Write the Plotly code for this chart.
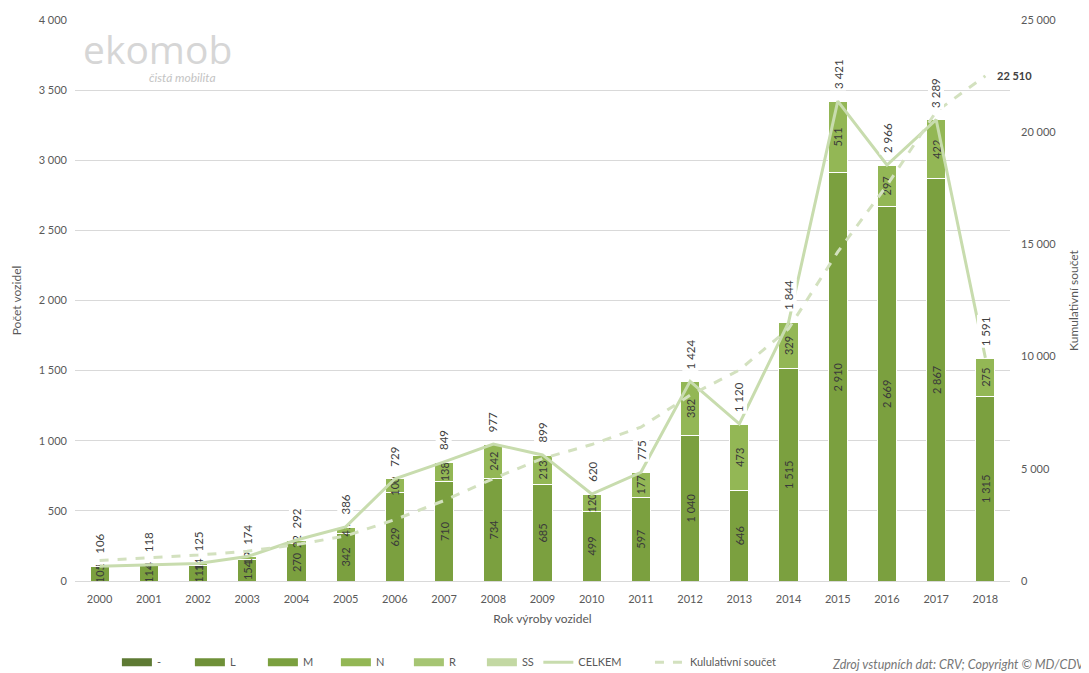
import plotly.graph_objects as go

years = [str(y) for y in range(2000, 2019)]
dash_cat = [0] * 19
cat_L = [0] * 19
cat_M = [105, 114, 111, 154, 270, 342, 629, 710, 734, 685, 499, 597, 1040, 646, 1515, 2910, 2669, 2867, 1315]
cat_N = [1, 4, 14, 19, 22, 41, 100, 138, 242, 213, 120, 177, 382, 473, 329, 511, 297, 422, 275]
cat_R = [0, 0, 0, 1, 0, 3, 0, 1, 1, 1, 1, 1, 2, 1, 0, 0, 0, 0, 1]
cat_SS = [0] * 19
celkem = [106, 118, 125, 174, 292, 386, 729, 849, 977, 899, 620, 775, 1424, 1120, 1844, 3421, 2966, 3289, 1591]
kumul = [911, 1029, 1154, 1328, 1620, 2006, 2735, 3584, 4561, 5460, 6080, 6855, 8279, 9399, 11243, 14664, 17630, 20919, 22510]

FONT = "Lato"
TXT = "#595959"

series = [("-", dash_cat, "#5e7a34", False), ("L", cat_L, "#6f9038", False),
          ("M", cat_M, "#7ba03f", True), ("N", cat_N, "#93b755", True),
          ("R", cat_R, "#a6c573", False), ("SS", cat_SS, "#c3d8a3", False)]

fig = go.Figure()

for name, vals, color, text in series:
    kw = {}
    if text:
        kw = dict(texttemplate="%{y:,d}", textposition="inside", textangle=-90,
                  insidetextanchor="middle", constraintext="none",
                  textfont=dict(family=FONT, size=11, color="#3a3a3a"))
    fig.add_trace(go.Bar(name=name, x=years, y=vals, showlegend=False,
                         marker=dict(color=color, line=dict(color="white", width=1)),
                         hoverinfo="y", **kw))

# legend swatches for bar series (wide rectangles like the reference)
for name, vals, color, text in series:
    fig.add_trace(go.Scatter(name=name, x=[None], y=[None], mode="lines",
                             line=dict(color=color, width=8), legend="legend"))

fig.add_trace(go.Scatter(name="CELKEM", x=years, y=celkem, mode="lines", legend="legend2",
                         line=dict(color="#c8dcae", width=3)))
fig.add_trace(go.Scatter(name="Kululativní součet", x=years, y=kumul, mode="lines", yaxis="y2",
                         legend="legend3", line=dict(color="#d3e1bf", width=3, dash="dash")))

for i, v in enumerate(celkem):
    fig.add_annotation(x=i, y=v, xref="x", yref="y", text=f"{v:,}".replace(",", " "),
                       textangle=-90, yanchor="bottom", yshift=10, showarrow=False,
                       bgcolor="white", font=dict(family=FONT, size=11.5, color="#404040"))

fig.add_annotation(x=len(years) - 1, y=kumul[-1], xref="x", yref="y2",
                   text=f"<b>{kumul[-1]:,}</b>".replace(",", " "), xanchor="left", xshift=10,
                   showarrow=False, font=dict(family=FONT, size=11, color="#404040"))

# logo
fig.add_annotation(xref="paper", yref="paper", x=0.006, y=1.0, xanchor="left", yanchor="top",
                   text="ekomob", showarrow=False, font=dict(family="Open Sans", size=39, color="#d6d6d6"))
fig.add_annotation(xref="paper", yref="paper", x=0.077, y=0.897, xanchor="left", yanchor="middle",
                   text="<i>čistá mobilita</i>", showarrow=False, font=dict(family=FONT, size=12, color="#c4c4c4"))

# source
fig.add_annotation(xref="paper", yref="paper", x=1.082, y=-0.1497, xanchor="right", yanchor="middle",
                   text="<i>Zdroj vstupních dat: CRV; Copyright © MD/CDV</i>", showarrow=False,
                   font=dict(family=FONT, size=12.5, color="#767676"))

leg_common = dict(orientation="h", xref="container", yref="container", y=0.028, yanchor="middle",
                  xanchor="left", bgcolor="rgba(0,0,0,0)", traceorder="normal",
                  font=dict(family=FONT, size=11, color=TXT))

fig.update_layout(
    width=1089, height=673,
    barmode="stack", bargap=0.61,
    separators=", ",
    paper_bgcolor="white", plot_bgcolor="white",
    margin=dict(l=67, r=87, t=12, b=100, autoexpand=False),
    font=dict(family=FONT, size=11, color=TXT),
    uniformtext=dict(minsize=11, mode="show"),
    showlegend=True,
    legend=dict(x=0.100, entrywidth=28, entrywidthmode="pixels", **leg_common),
    legend2=dict(x=0.487, **leg_common),
    legend3=dict(x=0.5895, **leg_common),
    xaxis=dict(type="category", automargin=False, range=[-0.5, len(years) - 0.5], autorange=False,
               title=dict(text="Rok výroby vozidel", standoff=10, font=dict(size=12, color=TXT)),
               showgrid=False, showline=True, linecolor="#d9d9d9", ticks="", ticklabelstandoff=8,
               tickfont=dict(size=11, color=TXT)),
    yaxis=dict(automargin=False, title=dict(text="Počet vozidel", standoff=14, font=dict(size=12, color=TXT)),
               range=[0, 4000], dtick=500, tickformat=",d", gridcolor="#d9d9d9", ticklabelstandoff=7,
               zeroline=False, ticks="", tickfont=dict(size=11, color=TXT)),
    yaxis2=dict(automargin=False, title=dict(text="Kumulativní součet", standoff=14, font=dict(size=12, color=TXT)),
                overlaying="y", side="right", range=[0, 25000], dtick=5000, tickformat=",d",
                ticklabelstandoff=10,
                showgrid=False, zeroline=False, ticks="", tickfont=dict(size=11, color=TXT)),
)

fig.write_html("out.html")
